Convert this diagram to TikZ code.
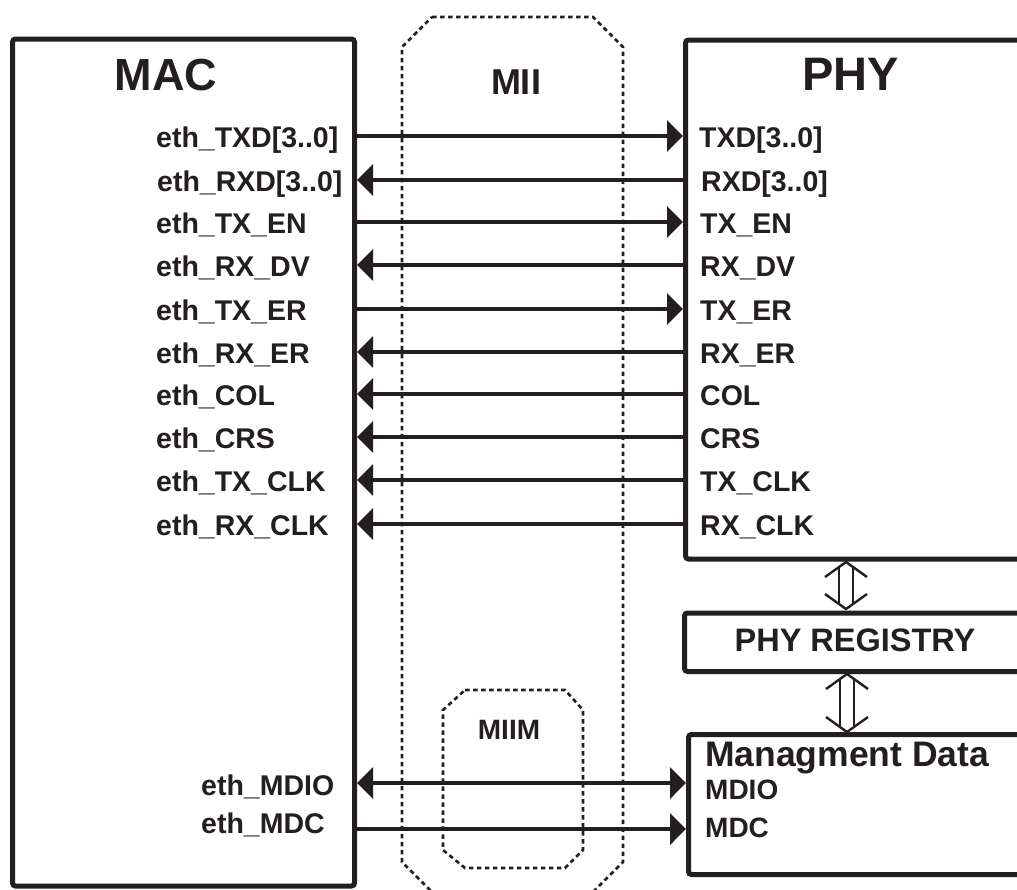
\documentclass[tikz,border=0pt]{standalone}
\usepackage{fontspec}
\setmainfont{Liberation Sans}
\usetikzlibrary{arrows.meta,calc}
\definecolor{inkdark}{HTML}{231F20}
\tikzset{
  >={Triangle[length=16pt,width=31pt]},
  block/.style={rectangle, rounded corners=3pt, draw=inkdark, line width=5pt, inner sep=0pt},
  boxtitle/.style={font=\bfseries\fontsize{45pt}{50pt}\selectfont, text=inkdark, inner sep=0pt},
  bustitle/.style={font=\bfseries\fontsize{36pt}{40pt}\selectfont, text=inkdark, inner sep=0pt},
  regtitle/.style={font=\bfseries\fontsize{32.5pt}{36pt}\selectfont, text=inkdark, inner sep=0pt},
  siglabel/.style={font=\bfseries\fontsize{28.5pt}{30pt}\selectfont, text=inkdark,
    inner sep=0pt, text height=22pt, text depth=0pt, anchor=west},
  sig/.style={line width=4pt, draw=inkdark},
  bound/.style={draw=inkdark, line width=2.6pt, dash pattern=on 4.5pt off 3.5pt},
  hollow/.style={draw=inkdark, line width=2.4pt, line join=miter}
}
\newcommand{\hollowarrow}[2]{
  \draw[hollow] ($(#1)+(-21,15)$) -- (#1) -- ($(#1)+(21,15)$);
  \draw[hollow] ($(#2)+(-21,-15)$) -- (#2) -- ($(#2)+(21,-15)$);
  \draw[hollow] ($(#1)+(-7,5)$) -- ($(#2)+(-7,-5)$);
  \draw[hollow] ($(#1)+(7,5)$) -- ($(#2)+(7,-5)$);
}
\begin{document}
\begin{tikzpicture}[x=1pt,y=-1pt]
\useasboundingbox (0,0) rectangle (1017,889);
% blocks
\node[block, minimum width=342pt, minimum height=847pt] (mac) at (183.5,462.5) {};
\node[block, minimum width=364pt, minimum height=519pt] (phy) at (867.5,299.5) {};
\node[block, minimum width=365pt, minimum height=58.5pt] (reg) at (867,642.25) {};
\node[block, minimum width=361pt, minimum height=140pt] (mgmt) at (869,804.5) {};
\node[boxtitle] (mactitle) at (166,75.5) {MAC};
\node[boxtitle, font=\bfseries\fontsize{47pt}{50pt}\selectfont] (phytitle) at (850.5,74.5) {PHY};
\node[regtitle] (regtitle) at (855,640) {PHY REGISTRY};
\node[regtitle, font=\bfseries\fontsize{35.5pt}{38pt}\selectfont, anchor=base west] (mgmttitle) at (705,766) {Managment Data};
% bus outlines
\draw[bound] (432,17) -- (593,17) -- (623,47) -- (623,862) -- (593,892) -- (432,892) -- (402,862) -- (402,47) -- cycle;
\draw[bound] (465,690) -- (565,690) -- (583,710) -- (583,850) -- (565,868) -- (465,868) -- (443,850) -- (443,710) -- cycle;
\node[bustitle] (mii) at (516,82.5) {MII};
\node[bustitle, font=\bfseries\fontsize{28pt}{30pt}\selectfont] (miim) at (509,729.5) {MIIM};
% MAC side signals
\node[siglabel] (mtxd) at (156,136) {eth\_TXD[3..0]};
\node[siglabel] (mrxd) at (157,180) {eth\_RXD[3..0]};
\node[siglabel] (mtxen) at (156,222) {eth\_TX\_EN};
\node[siglabel] (mrxdv) at (156,265) {eth\_RX\_DV};
\node[siglabel] (mtxer) at (156,309) {eth\_TX\_ER};
\node[siglabel] (mrxer) at (156,352) {eth\_RX\_ER};
\node[siglabel] (mcol) at (156,394) {eth\_COL};
\node[siglabel] (mcrs) at (156,437) {eth\_CRS};
\node[siglabel] (mtxclk) at (156,480) {eth\_TX\_CLK};
\node[siglabel] (mrxclk) at (156,524) {eth\_RX\_CLK};
\coordinate (rowmdio) at (201,783);
\coordinate (rowmdc) at (201,829);
\node[siglabel, anchor=base west] (mmdio) at (201,795) {eth\_MDIO};
\node[siglabel, anchor=base west] (mmdc) at (201,833) {eth\_MDC};
% PHY side signals
\node[siglabel] (ptxd) at (699,136) {TXD[3..0]};
\node[siglabel] (prxd) at (701,180) {RXD[3..0]};
\node[siglabel] (ptxen) at (700,222) {TX\_EN};
\node[siglabel] (prxdv) at (700,265) {RX\_DV};
\node[siglabel] (ptxer) at (700,309) {TX\_ER};
\node[siglabel] (prxer) at (700,352) {RX\_ER};
\node[siglabel] (pcol) at (700,394) {COL};
\node[siglabel] (pcrs) at (700,437) {CRS};
\node[siglabel] (ptxclk) at (700,480) {TX\_CLK};
\node[siglabel] (prxclk) at (700,524) {RX\_CLK};
\node[siglabel, font=\bfseries\fontsize{28pt}{30pt}\selectfont, anchor=base west] (pmdio) at (705,799) {MDIO};
\node[siglabel, font=\bfseries\fontsize{28pt}{30pt}\selectfont, anchor=base west] (pmdc) at (705,837) {MDC};
% connectors
\draw[sig, ->] (mtxd -| mac.east) -- (ptxd -| phy.west);
\draw[sig, <-] (mrxd -| mac.east) -- (prxd -| phy.west);
\draw[sig, ->] (mtxen -| mac.east) -- (ptxen -| phy.west);
\draw[sig, <-] (mrxdv -| mac.east) -- (prxdv -| phy.west);
\draw[sig, ->] (mtxer -| mac.east) -- (ptxer -| phy.west);
\draw[sig, <-] (mrxer -| mac.east) -- (prxer -| phy.west);
\draw[sig, <-] (mcol -| mac.east) -- (pcol -| phy.west);
\draw[sig, <-] (mcrs -| mac.east) -- (pcrs -| phy.west);
\draw[sig, <-] (mtxclk -| mac.east) -- (ptxclk -| phy.west);
\draw[sig, <-] (mrxclk -| mac.east) -- (prxclk -| phy.west);
\draw[sig, <->] (rowmdio -| mac.east) -- (rowmdio -| mgmt.west);
\draw[sig, ->] (rowmdc -| mac.east) -- (rowmdc -| mgmt.west);
% register links
\coordinate (link1top) at (846,562);
\coordinate (link1bot) at (846,609);
\coordinate (link2top) at (847,674);
\coordinate (link2bot) at (847,732);
\hollowarrow{link1top}{link1bot}
\hollowarrow{link2top}{link2bot}
\end{tikzpicture}
\end{document}
